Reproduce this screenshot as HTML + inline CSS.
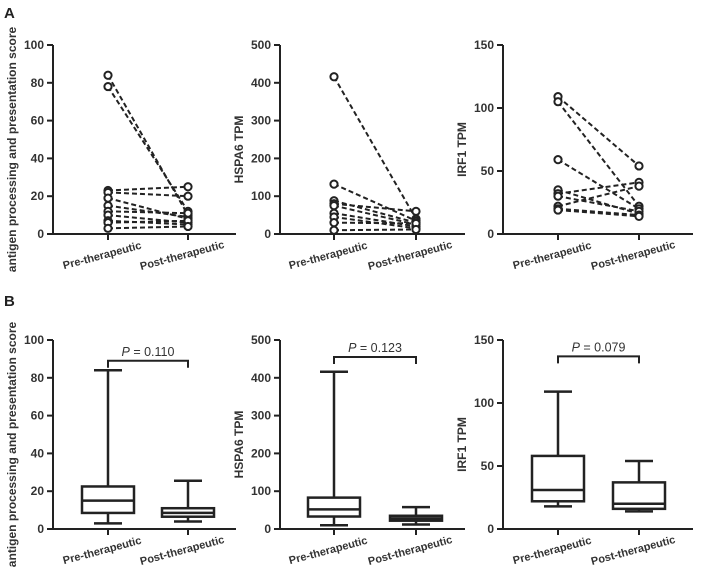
<!DOCTYPE html>
<html><head><meta charset="utf-8">
<style>
html,body{margin:0;padding:0;background:#fff;}
svg{display:block;font-family:"Liberation Sans",Arial,sans-serif;}
</style></head>
<body>
<svg id="fig" width="704" height="581" viewBox="0 0 704 581">
<text x="4" y="18" font-size="15" font-weight="bold" fill="#222">A</text>
<text x="4" y="306" font-size="15" font-weight="bold" fill="#222">B</text>
</svg>
<script>
const categories = ["Pre-therapeutic","Post-therapeutic"];
const yTitles = ["antigen processing and presentation score","HSPA6 TPM","IRF1 TPM"];
const yMax = [100,500,150];
const tickLabels1 = [0,20,40,60,80,100];
const tickLabels2 = [0,100,200,300,400,500];
const tickLabels3 = [0,50,100,150];
// paired values (panel A)
const pre1 = [84,78,23,22,19,15,12,10,7,6,3];
const post1 = [10,12,25,20,8,9,11,6,5,7,4];
const pre2 = [416,132,88,80,75,55,45,30,10];
const post2 = [40,35,30,60,25,20,15,28,12];
const pre3 = [109,105,59,35,32,30,22,20,19];
const post3 = [54,22,20,16,41,18,38,15,14];
// box stats [min,q1,median,q3,max] (panel B)
const boxPre1 = [3,8.5,15,22.5,84];
const boxPost1 = [4,6.5,8.5,11,25.5];
const boxPre2 = [10,33,52,83,416];
const boxPost2 = [12,22,28,35,58];
const boxPre3 = [18,22,31,58,109];
const boxPost3 = [14,16,20,37,54];
const pLabels = ["0.110","0.123","0.079"];
const bracketVals = [89,455,137];

const NS="http://www.w3.org/2000/svg";
const svg=document.getElementById('fig');
function mk(tag,attrs,parent){const e=document.createElementNS(NS,tag);for(const k in attrs)e.setAttribute(k,attrs[k]);(parent||svg).appendChild(e);return e;}

const axX=[53,280,503], axEnd=[236,465,693], cx=[[108,188],[334,416],[558,639]];
const ticks=[tickLabels1,tickLabels2,tickLabels3];
const pres=[pre1,pre2,pre3], posts=[post1,post2,post3];
const boxes=[[boxPre1,boxPost1],[boxPre2,boxPost2],[boxPre3,boxPost3]];

function axes(i,top,bot,panel){
  const g=mk('g',{});
  
  
  const y=v=>bot-(v/yMax[i])*(bot-top);
  const ya=mk('line',{x1:axX[i],y1:top,x2:axX[i],y2:bot,stroke:'#222','stroke-width':2},g);
  
  const xa=mk('line',{x1:axX[i]-1,y1:bot,x2:axEnd[i],y2:bot,stroke:'#222','stroke-width':2},g);
  
  ticks[i].forEach(t=>{
    mk('line',{x1:axX[i]-6,y1:y(t),x2:axX[i],y2:y(t),stroke:'#222','stroke-width':2},g);
    const tx=mk('text',{x:axX[i]-9,y:y(t)+4,'font-size':12,'font-weight':'bold','text-anchor':'end',fill:'#333'},g);
    tx.textContent=t;
    
  });
  categories.forEach((c,k)=>{
    const x=cx[i][k];
    mk('line',{x1:x,y1:bot,x2:x,y2:bot+6,stroke:'#222','stroke-width':2},g);
    const tx=mk('text',{x:x-6,y:bot+25,'font-size':11,'font-weight':'bold','text-anchor':'middle',fill:'#333',transform:`rotate(-15 ${x-6} ${bot+21})`},g);
    tx.textContent=c;
    
  });
  const ty=(top+bot)/2+10, tX=axX[i]-37;
  const tt=mk('text',{x:tX,y:ty,'font-size':12,'font-weight':'bold','text-anchor':'middle',fill:'#333',transform:`rotate(-90 ${tX} ${ty})`},g);
  tt.textContent=yTitles[i];
  
  return {g,y};
}

for(let i=0;i<3;i++){
  const {g,y}=axes(i,45,234,'a');
  pres[i].forEach((v,k)=>{
    const l=mk('line',{x1:cx[i][0],y1:y(v),x2:cx[i][1],y2:y(posts[i][k]),stroke:'#222','stroke-width':2,'stroke-dasharray':'5,3'},g);
    
  });
  pres[i].forEach((v,k)=>{
    [[0,v],[1,posts[i][k]]].forEach(([s,val])=>{
      const c=mk('circle',{cx:cx[i][s],cy:y(val),r:3.6,fill:'#fff',stroke:'#222','stroke-width':2},g);
      
    });
  });
  const B=axes(i,340,529,'b');
  boxes[i].forEach((b,k)=>{
    const x=cx[i][k], yb=B.y, w=52, cw=28;
    const gb=mk('g',{stroke:'#222','stroke-width':2.5,fill:'#fff'},B.g);
    
    mk('line',{x1:x,y1:yb(b[0]),x2:x,y2:yb(b[4])},gb);
    mk('line',{x1:x-cw/2,y1:yb(b[0]),x2:x+cw/2,y2:yb(b[0])},gb);
    mk('line',{x1:x-cw/2,y1:yb(b[4]),x2:x+cw/2,y2:yb(b[4])},gb);
    mk('rect',{x:x-w/2,y:yb(b[3]),width:w,height:yb(b[1])-yb(b[3])},gb);
    mk('line',{x1:x-w/2,y1:yb(b[2]),x2:x+w/2,y2:yb(b[2])},gb);
  });
  const by=B.y(bracketVals[i]);
  const br=mk('path',{d:`M${cx[i][0]} ${by+7}V${by}H${cx[i][1]}V${by+7}`,stroke:'#222','stroke-width':2,fill:'none'},B.g);
  
  const pt=mk('text',{x:(cx[i][0]+cx[i][1])/2,y:by-5,'font-size':12.5,'text-anchor':'middle',fill:'#333'},B.g);
  pt.innerHTML='<tspan font-style="italic">P</tspan> = '+pLabels[i];
  
}
</script>
</body></html>
